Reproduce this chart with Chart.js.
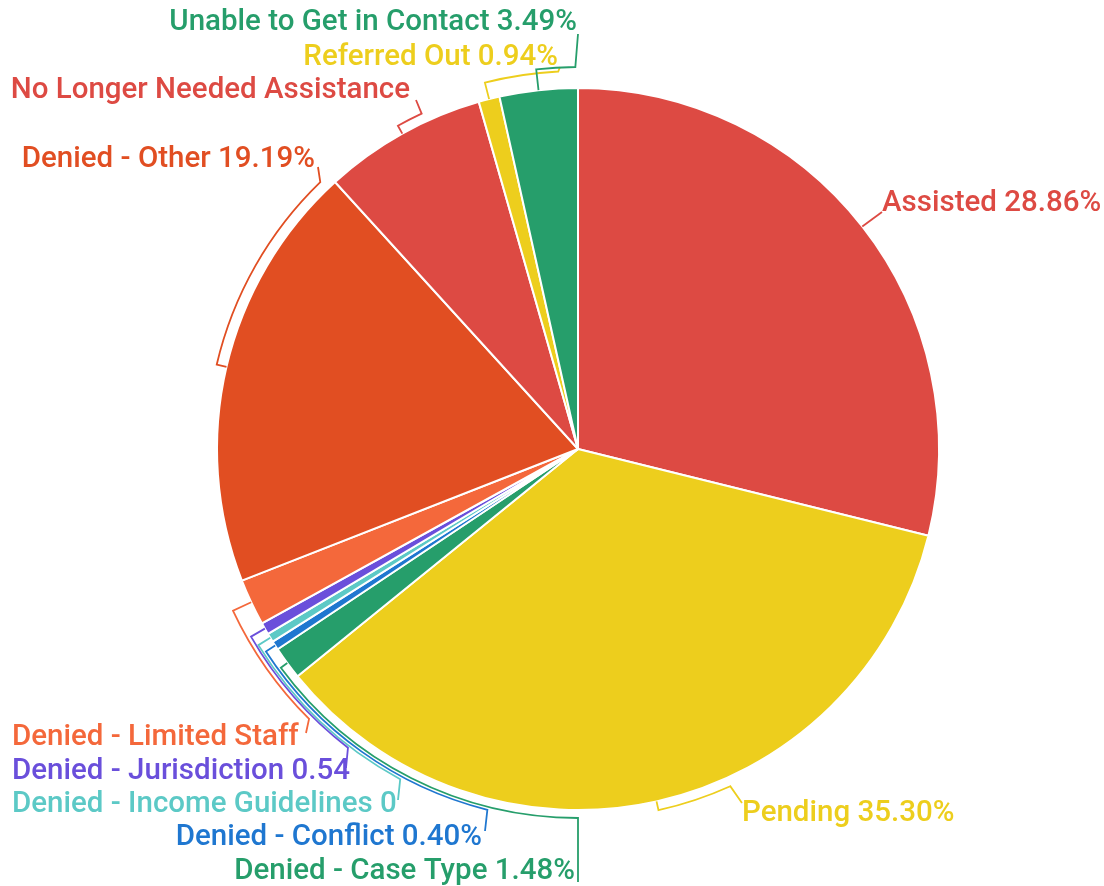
<!DOCTYPE html>
<html>
<head>
<meta charset="utf-8">
<script src="https://cdn.jsdelivr.net/npm/chart.js@4"></script>
<style>
  html, body { margin: 0; padding: 0; background: #ffffff; }
  #wrap { width: 1104px; height: 886px; position: relative; }
</style>
</head>
<body>
<div id="wrap"><canvas id="c"></canvas></div>
<script>
// ---- data ----
const categories = ['Assisted', 'Pending', 'Denied - Case Type', 'Denied - Conflict',
  'Denied - Income Guidelines', 'Denied - Jurisdiction', 'Denied - Limited Staff',
  'Denied - Other', 'No Longer Needed Assistance', 'Referred Out', 'Unable to Get in Contact'];
const shares = [28.86, 35.30, 1.48, 0.40, 0.40, 0.54, 2.08, 19.19, 7.32, 0.94, 3.49];
// labels as they appear (some truncated in the original)
const labelTexts = ['Assisted 28.86%', 'Pending 35.30%', 'Denied - Case Type 1.48%',
  'Denied - Conflict 0.40%', 'Denied - Income Guidelines 0', 'Denied - Jurisdiction 0.54',
  'Denied - Limited Staff', 'Denied - Other 19.19%', 'No Longer Needed Assistance',
  'Referred Out 0.94%', 'Unable to Get in Contact 3.49%'];
const sliceColors = ['#DD4A43', '#EDCE1D', '#269E6B', '#1F77D0', '#5CC9C6', '#6A4FDB',
  '#F4683B', '#E14E22', '#DD4A43', '#EDCE1D', '#269E6B'];

// ---- leader / label layout (styling, not data) ----
// off: radial offset of leader arc, to: leader arc end (deg clockwise from 12 o'clock),
// ax/ay: leader end, tx/ty: text anchor, al: text align
const leaderLayout = [
  { off: 0,  to: null,  ax: 882, ay: 212, tx: 882, ty: 204, al: 'left' },
  { off: 9,  to: 155.7, ax: 742, ay: 803, tx: 742, ty: 814, al: 'left' },
  { off: 8,  to: 180,   ax: 578, ay: 882, tx: 575, ty: 872, al: 'right' },
  { off: 11, to: 194.1, ax: 485, ay: 831, tx: 482, ty: 838, al: 'right' },
  { off: 14, to: 208.3, ax: 398, ay: 800, tx: 12,  ty: 805, al: 'left' },
  { off: 16, to: 217.6, ax: 346, ay: 768, tx: 12,  ty: 772, al: 'left' },
  { off: 20, to: 224.9, ax: 306, ay: 733, tx: 12,  ty: 738, al: 'left' },
  { off: 10, to: 316,   ax: 318, ay: 167, tx: 315, ty: 160, al: 'right' },
  { off: 9,  to: 335,   ax: 416, ay: 100, tx: 410, ty: 91,  al: 'right' },
  { off: 17, to: 357,   ax: 560, ay: 67,  tx: 558, ty: 58,  al: 'right' },
  { off: 21, to: 359.6, ax: 578, ay: 34,  tx: 577, ty: 23,  al: 'right' }
];

const labelFont = '500 29.5px Roboto';

const leaderPlugin = {
  id: 'leaders',
  afterDatasetsDraw(chart) {
    const ctx = chart.ctx;
    const meta = chart.getDatasetMeta(0);
    ctx.save();
    meta.data.forEach((arc, i) => {
      const p = arc.getProps(['x', 'y', 'startAngle', 'endAngle', 'outerRadius'], true);
      const L = leaderLayout[i];
      const col = sliceColors[i];
      const mid = (p.startAngle + p.endAngle) / 2;
      const R = p.outerRadius;
      ctx.strokeStyle = col;
      ctx.lineWidth = 1.8;
      ctx.lineJoin = 'miter';
      ctx.beginPath();
      ctx.moveTo(p.x + Math.cos(mid) * R, p.y + Math.sin(mid) * R);
      if (L.to !== null) {
        const r2 = R + L.off;
        ctx.lineTo(p.x + Math.cos(mid) * r2, p.y + Math.sin(mid) * r2);
        const a2 = (L.to - 90) * Math.PI / 180;
        ctx.arc(p.x, p.y, r2, mid, a2, a2 < mid);
      }
      ctx.lineTo(L.ax, L.ay);
      ctx.stroke();

      ctx.font = labelFont;
      ctx.fillStyle = col;
      ctx.textAlign = L.al;
      ctx.textBaseline = 'middle';
      ctx.fillText(labelTexts[i], L.tx, L.ty);
    });
    ctx.restore();
  }
};

new Chart(document.getElementById('c'), {
  type: 'pie',
  data: {
    labels: categories,
    datasets: [{
      data: shares,
      backgroundColor: sliceColors,
      borderColor: '#ffffff',
      borderWidth: 2
    }]
  },
  options: {
    responsive: true,
    maintainAspectRatio: false,
    animation: false,
    devicePixelRatio: 1,
    layout: { padding: { left: 216, right: 164, top: 87, bottom: 75 } },
    plugins: {
      legend: { display: false },
      tooltip: { enabled: false }
    }
  },
  plugins: [leaderPlugin]
});
</script>
</body>
</html>
